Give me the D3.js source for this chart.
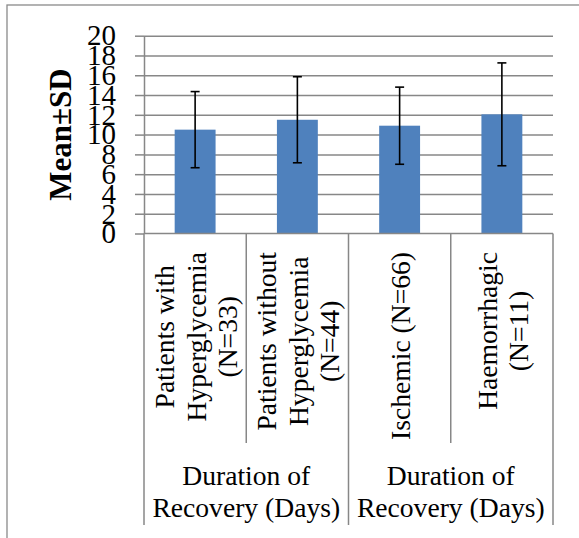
<!DOCTYPE html>
<html>
<head>
<meta charset="utf-8">
<script src="https://cdn.jsdelivr.net/npm/d3@7"></script>
<style>
  html, body { margin: 0; padding: 0; background: #fff; }
  svg { display: block; }
</style>
</head>
<body>
<svg id="chart" width="579" height="538"></svg>
<script>
// ---- Data ----
const categories = ["Patients with Hyperglycemia (N=33)", "Patients without Hyperglycemia (N=44)", "Ischemic (N=66)", "Haemorrhagic (N=11)"];
const categoryLines = [
  ["Patients with", "Hyperglycemia", "(N=33)"],
  ["Patients without", "Hyperglycemia", "(N=44)"],
  ["Ischemic (N=66)"],
  ["Haemorrhagic", "(N=11)"]
];
const means = [10.5, 11.5, 10.9, 12.05];
const sds = [3.85, 4.35, 3.9, 5.2];
const groups = ["Duration of Recovery (Days)", "Duration of Recovery (Days)"];
const groupLines = [["Duration of", "Recovery (Days)"], ["Duration of", "Recovery (Days)"]];
const groupSizes = [2, 2];
const yTicks = [0, 2, 4, 6, 8, 10, 12, 14, 16, 18, 20];
const yTitle = "Mean±SD";

// ---- Layout ----
const serif = "'Liberation Serif', 'Times New Roman', Times, serif";
const gridColor = "#878787";
const plotL = 144, plotR = 553, plotT = 35.7, plotB = 233.5;

const svg = d3.select("#chart");

// outer chart border
svg.append("rect")
  .attr("x", 7).attr("y", 5)
  .attr("width", 700).attr("height", 700)
  .attr("fill", "#fff")
  .attr("stroke", "#8a8a8a").attr("stroke-width", 1.3);

const y = d3.scaleLinear().domain([0, 20]).range([plotB, plotT]);
const x = d3.scaleBand().domain(categories).range([plotL, plotR]).paddingInner(0.6).paddingOuter(0.3);
const xc = d3.scaleBand().domain(categories).range([plotL, plotR]).padding(0);

// gridlines
svg.append("g")
  .attr("transform", `translate(${plotL},0)`)
  .call(d3.axisLeft(y).tickValues(yTicks.filter(v => v > 0)).tickSize(-(plotR - plotL)).tickFormat(""))
  .call(g => g.select(".domain").remove())
  .call(g => g.selectAll("line").attr("stroke", gridColor).attr("stroke-width", 1.5));

// bars
svg.append("g").selectAll("rect")
  .data(categories)
  .join("rect")
  .attr("x", d => x(d))
  .attr("width", x.bandwidth())
  .attr("y", (d, i) => y(means[i]))
  .attr("height", (d, i) => y(0) - y(means[i]))
  .attr("fill", "#4F81BD");

// error bars
const eb = svg.append("g").attr("stroke", "#000").attr("stroke-width", 1.6).attr("fill", "none");
categories.forEach((c, i) => {
  const cx = x(c) + x.bandwidth() / 2;
  const hi = y(means[i] + sds[i]), lo = y(means[i] - sds[i]);
  eb.append("line").attr("x1", cx).attr("x2", cx).attr("y1", hi).attr("y2", lo);
  eb.append("line").attr("x1", cx - 4.5).attr("x2", cx + 4.5).attr("y1", hi).attr("y2", hi);
  eb.append("line").attr("x1", cx - 4.5).attr("x2", cx + 4.5).attr("y1", lo).attr("y2", lo);
});

// y axis with ticks and labels
svg.append("g")
  .attr("transform", `translate(${plotL},0)`)
  .call(d3.axisLeft(y).tickValues(yTicks).tickSize(9).tickPadding(19).tickSizeOuter(0))
  .call(g => g.select(".domain").attr("stroke", gridColor).attr("stroke-width", 1.5))
  .call(g => g.selectAll(".tick line").attr("stroke", gridColor).attr("stroke-width", 1.5))
  .call(g => g.selectAll(".tick text")
    .attr("fill", "#000")
    .style("font-family", serif)
    .style("font-size", "29px"));

// x axis baseline
svg.append("line")
  .attr("x1", plotL).attr("x2", plotR)
  .attr("y1", y(0)).attr("y2", y(0))
  .attr("stroke", gridColor).attr("stroke-width", 1.5);

// category dividers
const innerBottom = 443, outerBottom = 525;
const dividers = [];
let acc = 0;
const groupBoundaries = new Set([0]);
groupSizes.forEach(s => { acc += s; groupBoundaries.add(acc); });
for (let i = 0; i <= categories.length; i++) {
  const xx = i < categories.length ? xc(categories[i]) : xc(categories[i - 1]) + xc.bandwidth();
  dividers.push({ x: xx, full: groupBoundaries.has(i) });
}
svg.append("g").selectAll("line")
  .data(dividers)
  .join("line")
  .attr("x1", d => d.x).attr("x2", d => d.x)
  .attr("y1", y(0)).attr("y2", d => d.full ? outerBottom : innerBottom)
  .attr("stroke", gridColor).attr("stroke-width", 1.5);

// rotated category labels
const catFont = 27.6, catLH = 31.5, catTop = 252;
categories.forEach((c, i) => {
  const cx = xc(c) + xc.bandwidth() / 2;
  const g = svg.append("g");
  const lines = categoryLines[i];
  const texts = lines.map((ln, j) => g.append("text")
    .attr("text-anchor", "middle")
    .attr("y", (j - (lines.length - 1) / 2) * catLH + catFont * 0.38)
    .style("font-family", serif)
    .style("font-size", catFont + "px")
    .attr("fill", "#000")
    .text(ln));
  const maxLen = d3.max(texts, t => t.node().getComputedTextLength());
  g.attr("transform", `translate(${cx},${catTop + maxLen / 2}) rotate(-90)`);
});

// group labels
let start = 0;
groupLines.forEach((lines, gi) => {
  const x0 = xc(categories[start]);
  const x1 = xc(categories[start + groupSizes[gi] - 1]) + xc.bandwidth();
  start += groupSizes[gi];
  lines.forEach((ln, j) => {
    svg.append("text")
      .attr("x", (x0 + x1) / 2)
      .attr("y", 485 + j * 32)
      .attr("text-anchor", "middle")
      .style("font-family", serif)
      .style("font-size", catFont + "px")
      .attr("fill", "#000")
      .text(ln);
  });
});

// y axis title
svg.append("text")
  .attr("transform", `translate(71,${(plotT + plotB) / 2}) rotate(-90)`)
  .attr("text-anchor", "middle")
  .style("font-family", serif)
  .style("font-size", "31px")
  .style("font-weight", "bold")
  .attr("fill", "#000")
  .text(yTitle);
</script>
</body>
</html>
